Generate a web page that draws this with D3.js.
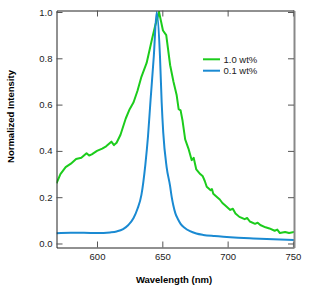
<!DOCTYPE html>
<meta charset="utf-8">
<title>Normalized emission spectra</title>
<style>
body { margin: 0; background: #fff; }
text { font-family: "Liberation Sans", Arial, sans-serif; }
.tick text { font-size: 9.5px; fill: #222; }
.title { font-size: 9.5px; font-weight: bold; fill: #000; }
.legend text { font-size: 9.5px; fill: #222; }
</style>
<body>
<div id="chart"></div>
<script src="https://d3js.org/d3.v7.min.js"></script>
<script>
// 1.0 wt% (green)
var wlHigh = [569, 572, 576, 580, 584, 588, 592, 594, 596, 600, 604, 607, 611, 613, 615, 618,
  622, 625, 628, 631, 634, 638, 642, 644.5, 647.5, 650.5, 653, 656, 658.5, 661, 662.5, 664, 665.5,
  667.5, 670, 672.5, 674, 676, 679, 681, 682.5, 684, 687, 688, 689, 692, 694, 696, 698, 702, 704, 706, 709, 713, 715, 717,
  721, 723, 725, 729, 732, 736, 738, 740, 744, 747, 751];
var valHigh = [0.26, 0.30, 0.33, 0.345, 0.365, 0.37, 0.39, 0.38, 0.385, 0.40, 0.41, 0.42, 0.44, 0.425, 0.435, 0.47,
  0.54, 0.58, 0.61, 0.66, 0.72, 0.78, 0.88, 0.94, 1.0, 0.92, 0.90, 0.77, 0.70, 0.64, 0.58, 0.575, 0.53,
  0.45, 0.41, 0.36, 0.37, 0.32, 0.30, 0.29, 0.27, 0.245, 0.23, 0.235, 0.215, 0.20, 0.19, 0.175, 0.165, 0.145, 0.15, 0.13, 0.115, 0.105, 0.11, 0.095,
  0.085, 0.09, 0.08, 0.07, 0.065, 0.055, 0.06, 0.045, 0.05, 0.045, 0.05];

// 0.1 wt% (blue)
var wlLow = [569, 580, 590, 600, 610, 615, 620, 624, 628, 631, 634, 637, 639, 641, 643.5, 645.7,
  648.2, 649.5, 650.7, 653.3, 655.9, 657.2, 658.4, 660, 662, 664, 667, 671.2, 676, 681.3,
  690, 696.7, 708, 719.6, 735, 751];
var valLow = [0.044, 0.046, 0.046, 0.045, 0.048, 0.052, 0.062, 0.08, 0.11, 0.15, 0.21, 0.34, 0.46, 0.62, 0.81, 1.0,
  0.81, 0.61, 0.48, 0.33, 0.25, 0.20, 0.165, 0.13, 0.105, 0.085, 0.068, 0.053, 0.043, 0.037,
  0.032, 0.029, 0.025, 0.022, 0.018, 0.015];

var xTicks = [600, 650, 700, 750];
var yTicks = [0, 0.2, 0.4, 0.6, 0.8, 1.0];
var seriesNames = ["1.0 wt%", "0.1 wt%"];
var seriesColors = ["#1ccc1c", "#1a8ad2"];

var width = 316, height = 286;
var mLeft = 56.5, mRight = 294, mTop = 10.5, mBottom = 247.5;

var svg = d3.select("#chart").append("svg")
    .attr("width", width)
    .attr("height", height);

var x = d3.scaleLinear().domain([569, 750.8]).range([mLeft, mRight]);
var y = d3.scaleLinear().domain([-0.0173, 1.0065]).range([mBottom, mTop]);

// clip so lines stay in the frame
svg.append("clipPath").attr("id", "clip")
  .append("rect").attr("x", mLeft).attr("y", mTop - 2).attr("width", mRight - mLeft).attr("height", mBottom - mTop + 2);

var line = d3.line()
    .x(function(d) { return x(d[0]); })
    .y(function(d) { return y(d[1]); });

var highData = d3.zip(wlHigh, valHigh);
var lowData = d3.zip(wlLow, valLow);

var plot = svg.append("g").attr("clip-path", "url(#clip)");

plot.append("path")
    .datum(highData)
    .attr("fill", "none")
    .attr("stroke", seriesColors[0])
    .attr("stroke-width", 2)
    .attr("stroke-linejoin", "round")
    .attr("d", line);

plot.append("path")
    .datum(lowData)
    .attr("fill", "none")
    .attr("stroke", seriesColors[1])
    .attr("stroke-width", 2)
    .attr("stroke-linejoin", "round")
    .attr("d", line.curve(d3.curveMonotoneX));

// axes, ticks pointing inward
var gx = svg.append("g")
    .attr("transform", "translate(0," + mBottom + ")")
    .call(d3.axisBottom(x).tickValues(xTicks).tickSizeInner(-6).tickSizeOuter(0).tickPadding(6).tickFormat(d3.format("d")));

var gy = svg.append("g")
    .attr("transform", "translate(" + mLeft + ",0)")
    .call(d3.axisLeft(y).tickValues(yTicks).tickSizeInner(-6).tickSizeOuter(0).tickPadding(4).tickFormat(d3.format(".1f")));

var gt = svg.append("g")
    .attr("transform", "translate(0," + mTop + ")")
    .call(d3.axisTop(x).tickValues(xTicks).tickSizeInner(-6).tickSizeOuter(0).tickFormat(""));

var gr = svg.append("g")
    .attr("transform", "translate(" + mRight + ",0)")
    .call(d3.axisRight(y).tickValues(yTicks).tickSizeInner(-6).tickSizeOuter(0).tickFormat(""));

gx.selectAll(".tick line").attr("stroke", "#555");
gy.selectAll(".tick line").attr("stroke", "#555");
gt.selectAll(".tick line").attr("stroke", "#555");
gr.selectAll(".tick line").attr("stroke", "#555");
gx.select(".domain").attr("stroke", "#222");
gy.select(".domain").attr("stroke", "#222");
gt.select(".domain").attr("stroke", "#222");
gr.select(".domain").attr("stroke", "#888").attr("stroke-width", 2);
gx.selectAll(".tick text").attr("dy", "0.71em");

// titles
svg.append("text")
    .attr("class", "title")
    .attr("x", 174)
    .attr("y", 283)
    .attr("text-anchor", "middle")
    .text("Wavelength (nm)");

svg.append("text")
    .attr("class", "title")
    .attr("transform", "translate(13.5,116.5)rotate(-90)")
    .attr("text-anchor", "middle")
    .text("Normalized Intensity");

// legend
var legend = svg.append("g").attr("class", "legend");
seriesNames.forEach(function(name, i) {
  var ly = 59.3 + i * 11.4;
  legend.append("line")
      .attr("x1", 203).attr("x2", 220)
      .attr("y1", ly).attr("y2", ly)
      .attr("stroke", seriesColors[i])
      .attr("stroke-width", 2);
  legend.append("text")
      .attr("x", 223.5)
      .attr("y", ly + 3.5)
      .text(name);
});
</script>
</body>
